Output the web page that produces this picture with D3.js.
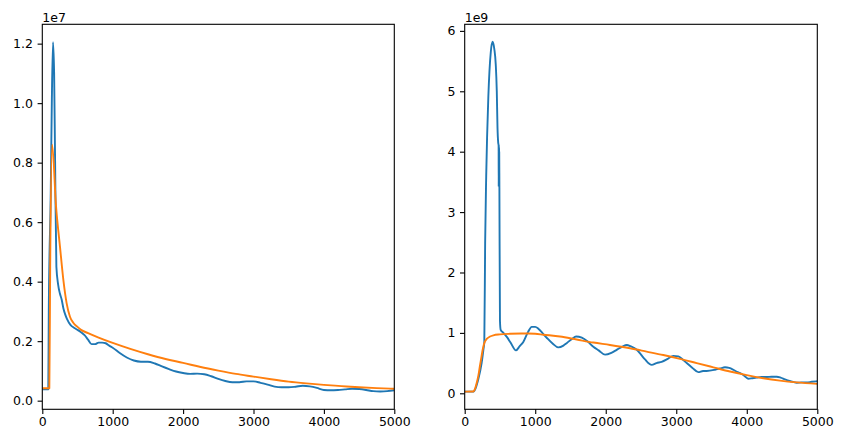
<!DOCTYPE html>
<html>
<head>
<meta charset="utf-8">
<script src="https://cdn.jsdelivr.net/npm/d3@7"></script>
<style>
  html, body { margin: 0; padding: 0; background: #fff; }
  svg { display: block; }
  text { font-family: "DejaVu Sans", sans-serif; fill: #000; }
</style>
</head>
<body>
<svg id="chart" width="844" height="443"></svg>
<script>
// ---------- data (left panel, values in units of 1e7) ----------
const leftBlueX = [0, 85, 92, 120, 135, 152, 168, 182, 200, 225, 250, 275, 300, 325, 350, 400, 450, 500, 550, 600, 650, 700, 750, 800, 850, 900, 950, 1000, 1100, 1200, 1300, 1400, 1500, 1600, 1700, 1800, 1900, 2000, 2100, 2200, 2300, 2400, 2500, 2600, 2700, 2800, 2900, 3000, 3100, 3200, 3300, 3400, 3500, 3600, 3700, 3800, 3900, 4000, 4100, 4200, 4300, 4400, 4500, 4600, 4700, 4800, 4900, 5000];
const leftBlueY = [0.038, 0.038, 0.30, 0.70, 1.00, 1.205, 1.10, 0.80, 0.45, 0.39, 0.36, 0.34, 0.31, 0.29, 0.275, 0.255, 0.245, 0.238, 0.23, 0.22, 0.205, 0.19, 0.19, 0.195, 0.195, 0.193, 0.185, 0.178, 0.16, 0.145, 0.135, 0.131, 0.131, 0.125, 0.115, 0.106, 0.098, 0.093, 0.090, 0.091, 0.089, 0.082, 0.073, 0.066, 0.062, 0.062, 0.065, 0.065, 0.060, 0.054, 0.047, 0.045, 0.045, 0.047, 0.050, 0.048, 0.043, 0.036, 0.035, 0.036, 0.038, 0.040, 0.039, 0.036, 0.032, 0.031, 0.032, 0.035];
const leftOrangeX = [0, 100, 112, 140, 195, 251, 299, 346, 393, 440, 500, 550, 650, 800, 1000, 1250, 1500, 1750, 2000, 2250, 2500, 2750, 3000, 3250, 3500, 3750, 4000, 4250, 4500, 4750, 5000];
const leftOrangeY = [0.042, 0.042, 0.45, 0.86, 0.653, 0.518, 0.406, 0.327, 0.282, 0.262, 0.248, 0.238, 0.227, 0.212, 0.194, 0.174, 0.156, 0.140, 0.127, 0.113, 0.101, 0.090, 0.081, 0.072, 0.064, 0.058, 0.053, 0.049, 0.045, 0.042, 0.040];

// ---------- data (right panel, values in units of 1e9) ----------
const rightBlueX = [0, 130, 150, 190, 240, 265, 278, 290, 305, 335, 370, 395, 420, 440, 455, 465, 475, 481, 482.5, 483.5, 484.5, 485.5, 486.5, 487.5, 488.5, 489.5, 492, 500, 510, 550, 600, 650, 727, 780, 831, 900, 950, 1000, 1044, 1100, 1163, 1250, 1327, 1400, 1446, 1520, 1580, 1660, 1740, 1824, 1900, 1990, 2080, 2155, 2230, 2300, 2350, 2440, 2500, 2557, 2652, 2720, 2793, 2880, 2958, 3029, 3090, 3148, 3230, 3313, 3380, 3431, 3549, 3620, 3691, 3750, 3809, 3870, 3928, 3975, 4022, 4080, 4141, 4210, 4283, 4350, 4425, 4480, 4542, 4620, 4708, 4780, 4850, 4920, 5000];
const rightBlueY = [0.028, 0.03, 0.07, 0.22, 0.50, 0.72, 0.85, 2.5, 3.6, 4.9, 5.65, 5.82, 5.70, 5.45, 5.0, 4.4, 4.15, 4.1, 3.42, 4.11, 3.45, 4.08, 3.42, 4.06, 3.45, 4.0, 3.4, 1.2, 1.05, 1.0, 0.93, 0.84, 0.71, 0.78, 0.85, 1.02, 1.10, 1.10, 1.07, 1.0, 0.92, 0.82, 0.76, 0.79, 0.83, 0.90, 0.94, 0.92, 0.86, 0.77, 0.71, 0.64, 0.67, 0.72, 0.77, 0.80, 0.78, 0.72, 0.64, 0.56, 0.47, 0.50, 0.52, 0.57, 0.62, 0.61, 0.56, 0.50, 0.42, 0.35, 0.37, 0.37, 0.39, 0.41, 0.43, 0.42, 0.39, 0.35, 0.32, 0.28, 0.24, 0.25, 0.26, 0.27, 0.27, 0.275, 0.275, 0.26, 0.23, 0.20, 0.175, 0.18, 0.18, 0.19, 0.20];
const rightOrangeX = [0, 120, 145, 170, 195, 217, 240, 255, 270, 288, 312, 359, 406, 500, 643, 800, 900, 1000, 1115, 1351, 1588, 1824, 2060, 2344, 2580, 2816, 3053, 3290, 3526, 3762, 4000, 4234, 4470, 4708, 5000];
const rightOrangeY = [0.027, 0.03, 0.07, 0.17, 0.30, 0.46, 0.62, 0.72, 0.80, 0.86, 0.90, 0.94, 0.96, 0.975, 0.985, 0.99, 0.99, 0.985, 0.97, 0.94, 0.89, 0.84, 0.80, 0.745, 0.69, 0.634, 0.57, 0.50, 0.43, 0.36, 0.30, 0.25, 0.21, 0.18, 0.155];

// ---------- tick labels ----------
const xTicks = [0, 1000, 2000, 3000, 4000, 5000];
const leftYTicks = [0.0, 0.2, 0.4, 0.6, 0.8, 1.0, 1.2];
const rightYTicks = [0, 1, 2, 3, 4, 5, 6];
const leftOffsetLabel = "1e7";
const rightOffsetLabel = "1e9";

const BLUE = "#1f77b4", ORANGE = "#ff7f0e";
const svg = d3.select("#chart");
const FS = 12.5;

function panel(cfg) {
  const x = d3.scaleLinear().domain([0, 5000]).range([cfg.x0, cfg.x1]);
  const y = d3.scaleLinear().domain(cfg.yDomain).range([409.3, 24.3]);
  const g = svg.append("g");
  const clipId = "clip" + cfg.id;
  svg.append("clipPath").attr("id", clipId).append("rect")
    .attr("x", cfg.x0).attr("y", 24.3).attr("width", cfg.x1 - cfg.x0).attr("height", 385);
  const line = d3.line().x(d => x(d[0])).y(d => y(d[1])).curve(d3.curveMonotoneX);
  const series = [[cfg.bx, cfg.by, BLUE], [cfg.ox, cfg.oy, ORANGE]];
  series.forEach(([xs, ys, c]) => {
    g.append("path").datum(xs.map((v, i) => [v, ys[i]]))
      .attr("clip-path", `url(#${clipId})`)
      .attr("d", line).attr("fill", "none").attr("stroke", c)
      .attr("stroke-width", 1.9).attr("stroke-linejoin", "round");
  });
  // axes
  const xa = d3.axisBottom(x).tickValues(xTicks).tickSize(4.7).tickPadding(3.2).tickFormat(d3.format("d"));
  const ya = d3.axisLeft(y).tickValues(cfg.yTicks).tickSize(4.7).tickPadding(4.6).tickFormat(cfg.fmt);
  const gx = g.append("g").attr("transform", "translate(0,409.3)").call(xa);
  const gy = g.append("g").attr("transform", `translate(${cfg.x0},0)`).call(ya);
  [gx, gy].forEach(a => {
    a.select(".domain").remove();
    a.selectAll("line").attr("stroke", "#000").attr("stroke-width", 1.1);
    a.selectAll("text").attr("font-size", FS).attr("font-family", "DejaVu Sans").attr("fill", "#000");
  });
  // frame
  g.append("rect").attr("x", cfg.x0).attr("y", 24.3).attr("width", cfg.x1 - cfg.x0).attr("height", 385)
    .attr("fill", "none").attr("stroke", "#000").attr("stroke-width", 1.1);
  g.append("text").attr("x", cfg.x0).attr("y", 21.5).attr("font-size", FS).text(cfg.offset);
}

panel({ id: "L", x0: 42.3, x1: 394.3, yDomain: [-0.029, 1.265], yTicks: leftYTicks, fmt: d3.format(".1f"),
        bx: leftBlueX, by: leftBlueY, ox: leftOrangeX, oy: leftOrangeY, offset: leftOffsetLabel });
panel({ id: "R", x0: 464.7, x1: 817.3, yDomain: [-0.265, 6.109], yTicks: rightYTicks, fmt: d3.format("d"),
        bx: rightBlueX, by: rightBlueY, ox: rightOrangeX, oy: rightOrangeY, offset: rightOffsetLabel });
</script>
</body>
</html>
